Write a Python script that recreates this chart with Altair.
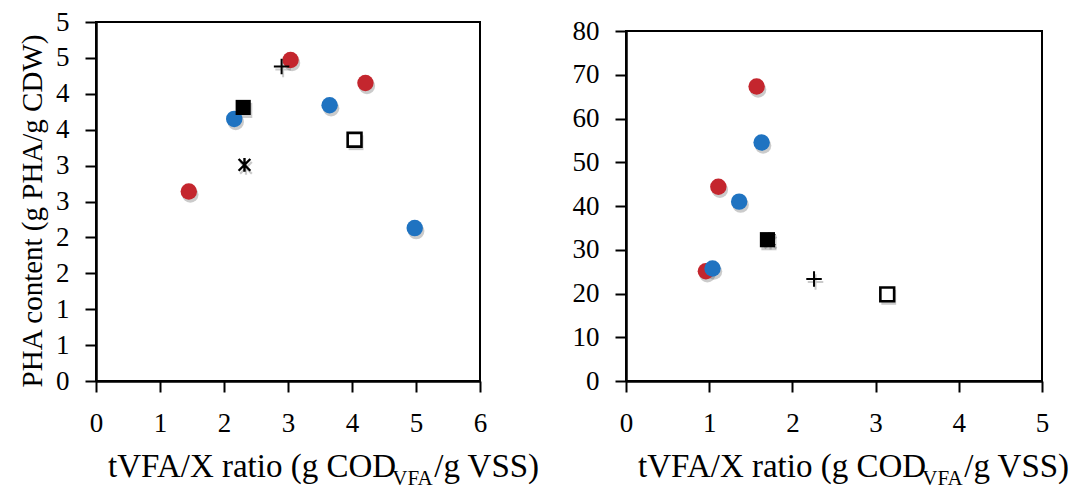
import altair as alt
import pandas as pd

# ---------------- data ----------------
# Left panel: PHA content vs tVFA/X ratio
L_red_x = [1.45, 3.04, 4.21]
L_red_y = [2.64, 4.47, 4.15]
L_blue_x = [2.16, 3.65, 4.98]
L_blue_y = [3.65, 3.84, 2.13]
L_plus_x, L_plus_y = [2.90], [4.38]
L_fsq_x, L_fsq_y = [2.30], [3.81]
L_osq_x, L_osq_y = [4.04], [3.36]
L_ast_x, L_ast_y = [2.32], [3.01]

# Right panel
R_red_x = [0.96, 1.11, 1.57]
R_red_y = [25.1, 44.4, 67.3]
R_blue_x = [1.04, 1.36, 1.63]
R_blue_y = [25.7, 41.0, 54.5]
R_fsq_x, R_fsq_y = [1.70], [32.3]
R_ast_x, R_ast_y = [1.72], [32.3]
R_plus_x, R_plus_y = [2.26], [23.3]
R_osq_x, R_osq_y = [3.14], [19.8]

L_xticks = [0, 1, 2, 3, 4, 5, 6]
L_yticks = [0, 0.5, 1, 1.5, 2, 2.5, 3, 3.5, 4, 4.5, 5]
R_xticks = [0, 1, 2, 3, 4, 5]
R_yticks = [0, 10, 20, 30, 40, 50, 60, 70, 80]

Y_TITLE = "PHA content (g PHA/g CDW)"
X_MAIN = "tVFA/X ratio (g COD"
X_SUB = "VFA"
X_END = "/g VSS)"

FONT = "Liberation Serif"
RED = "#c4262e"
BLUE = "#1f73c1"

# Times / Liberation Serif advance widths (per em)
TW = {" ": .25, "(": .333, ")": .333, "/": .278, "A": .722, "C": .667, "D": .722,
      "F": .556, "S": .556, "V": .722, "X": .722, "a": .444, "g": .5, "i": .278,
      "o": .5, "r": .333, "t": .278}


def tw(s, size):
    return sum(TW.get(c, .5) for c in s) * size


PLUS = "M-1,0L1,0M0,-1L0,1"
AST = "M-0.85,-0.85L0.85,0.85M-0.85,0.85L0.85,-0.85M0,-1L0,1"

TITLE_SIZE = 33
SUB_SIZE = 21


def panel(series, xdom, ydom, xticks, yticks, W, H, yrange, ytitle, ylabelexpr):
    rows = []
    for name, xs, ys in series:
        for a, b in zip(xs, ys):
            rows.append({"s": name, "x": a, "y": b})
    df = pd.DataFrame(rows)
    base = alt.Chart(df)

    xs = alt.Scale(domain=xdom, nice=False, zero=False)
    ys = alt.Scale(domain=ydom, nice=False, zero=False, range=yrange)

    yaxis_kw = dict(values=yticks, title=ytitle, grid=False, labelPadding=16,
                    labelOverlap=False)
    if ytitle:
        yaxis_kw.update(titleFont=FONT, titleFontSize=29, titleFontWeight="normal",
                        titleColor="black", titlePadding=8, titleY=H / 2 + 9)
    if ylabelexpr:
        yaxis_kw["labelExpr"] = ylabelexpr
    xaxis = alt.Axis(values=xticks, title=None, grid=False,
                     labelExpr="format(datum.value, 'd')",
                     labelPadding=18, labelFlush=False, labelOverlap=False)
    yaxis = alt.Axis(**yaxis_kw)
    X = alt.X("x:Q", scale=xs, axis=xaxis)
    Y = alt.Y("y:Q", scale=ys, axis=yaxis)

    def sel(name):
        return base.transform_filter(alt.datum.s == name)

    CS = 270  # circle size
    layers = []
    # shadows
    shadow = dict(color="#444444", opacity=0.28, xOffset=1.5, yOffset=3)
    layers.append(sel("red").mark_point(shape="circle", filled=True, size=CS, **shadow).encode(x=X, y=Y))
    layers.append(sel("blue").mark_point(shape="circle", filled=True, size=CS, **shadow).encode(x=X, y=Y))
    layers.append(sel("fsq").mark_point(shape="square", filled=True, size=230, **shadow).encode(x=X, y=Y))
    layers.append(sel("osq").mark_point(shape="square", filled=True, size=220, **shadow).encode(x=X, y=Y))
    layers.append(sel("plus").mark_point(shape=PLUS, filled=False, size=240, strokeWidth=2, **shadow).encode(x=X, y=Y))
    layers.append(sel("ast").mark_point(shape=AST, filled=False, size=190, strokeWidth=2.2, **shadow).encode(x=X, y=Y))
    # frame
    layers.append(base.mark_rect(fillOpacity=0, stroke="black", strokeWidth=2).encode(
        x=alt.X(datum=xdom[0], type="quantitative", scale=xs, axis=xaxis),
        x2=alt.datum(xdom[1]),
        y=alt.Y(datum=ydom[0], type="quantitative", scale=ys, axis=yaxis),
        y2=alt.datum(ydom[1]),
    ))
    # markers
    layers.append(sel("red").mark_point(shape="circle", filled=True, size=CS, color=RED, opacity=1).encode(x=X, y=Y))
    layers.append(sel("blue").mark_point(shape="circle", filled=True, size=CS, color=BLUE, opacity=1).encode(x=X, y=Y))
    layers.append(sel("fsq").mark_point(shape="square", filled=True, size=230, color="black", opacity=1).encode(x=X, y=Y))
    layers.append(sel("osq").mark_point(shape="square", filled=True, size=190, fill="white", stroke="black",
                                       strokeWidth=2.6, opacity=1).encode(x=X, y=Y))
    layers.append(sel("plus").mark_point(shape=PLUS, filled=False, size=240, color="black", strokeWidth=2,
                                        opacity=1).encode(x=X, y=Y))
    layers.append(sel("ast").mark_point(shape=AST, filled=False, size=190, color="black", strokeWidth=2.4,
                                       opacity=1).encode(x=X, y=Y))

    # x-axis title with subscript
    tdf = pd.DataFrame({"t": [0]})
    tb = alt.Chart(tdf)
    x0 = 12
    yb = H + 96
    main_w = tw(X_MAIN, TITLE_SIZE)
    sub_w = tw(X_SUB, SUB_SIZE)
    layers.append(tb.mark_text(text=X_MAIN, font=FONT, fontSize=TITLE_SIZE, align="left",
                               baseline="alphabetic", color="black").encode(x=alt.value(x0), y=alt.value(yb)))
    layers.append(tb.mark_text(text=X_SUB, font=FONT, fontSize=SUB_SIZE, align="left",
                               baseline="alphabetic", color="black").encode(
        x=alt.value(x0 + main_w + 1), y=alt.value(yb + 8)))
    layers.append(tb.mark_text(text=X_END, font=FONT, fontSize=TITLE_SIZE, align="left",
                               baseline="alphabetic", color="black").encode(
        x=alt.value(x0 + main_w + sub_w + 1), y=alt.value(yb)))

    return alt.layer(*layers).properties(width=W, height=H)


H = 359
left = panel(
    [("red", L_red_x, L_red_y), ("blue", L_blue_x, L_blue_y), ("plus", L_plus_x, L_plus_y),
     ("fsq", L_fsq_x, L_fsq_y), ("osq", L_osq_x, L_osq_y), ("ast", L_ast_x, L_ast_y)],
    [0, 6], [0, 5], L_xticks, L_yticks, 384, H, [H, 0], Y_TITLE, "format(round(datum.value), 'd')")
right = panel(
    [("red", R_red_x, R_red_y), ("blue", R_blue_x, R_blue_y), ("fsq", R_fsq_x, R_fsq_y),
     ("ast", R_ast_x, R_ast_y), ("plus", R_plus_x, R_plus_y), ("osq", R_osq_x, R_osq_y)],
    [0, 5], [0, 80], R_xticks, R_yticks, 416, H, [H, 9], None, "format(datum.value, 'd')")

chart = alt.hconcat(left, right, spacing=146, bounds="flush").properties(
    padding={"left": 18, "top": 8, "right": 5, "bottom": 0},
    background="white",
).configure_view(strokeWidth=0).configure_axis(
    domainColor="black", domainWidth=2.5, tickColor="black", tickWidth=2, tickSize=11,
    labelFont=FONT, labelFontSize=27, labelColor="black", grid=False,
)

chart.save("out.html", embed_options={"renderer": "svg", "actions": False})
